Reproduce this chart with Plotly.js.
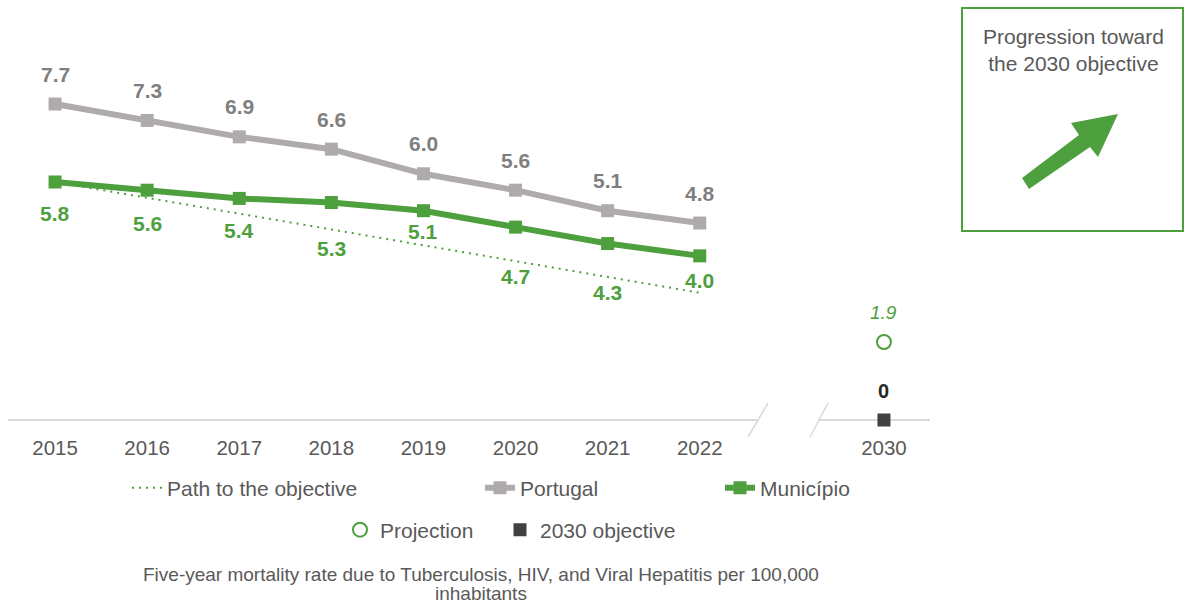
<!DOCTYPE html>
<html>
<head>
<meta charset="utf-8">
<script src="https://cdn.plot.ly/plotly-3.0.1.min.js"></script>
<style>html,body{margin:0;padding:0;background:#fff;}#chart{width:1187px;height:605px;}</style>
</head>
<body>
<div id="chart"></div>
<script>
// ---- data ----
const years = ['2015','2016','2017','2018','2019','2020','2021','2022'];
const yearPos = [0,1,2,3,4,5,6,7];
const portugal = [7.7, 7.3, 6.9, 6.6, 6.0, 5.6, 5.1, 4.8];
const municipio = [5.8, 5.6, 5.4, 5.3, 5.1, 4.7, 4.3, 4.0];
const pathYears = [0, 7];
const pathValues = [5.8, 3.1];
const targetYear = '2030';
const targetPos = 9;
const projection = [1.9];
const objective = [0];

// ---- styles / label placement ----
const FONT = 'Liberation Sans, Arial, sans-serif';
const GREEN = '#4e9f3d';
const GREY_LINE = '#afabab';
const GREY_LABEL = '#7f7f7f';
const TEXT = '#595959';
const municipioLabelShift = [-32, -33, -32, -46, -21, -49, -49, -25];

const W = 1187, H = 605, ML = 8, MR = 257, MT = 40, MB = 185;
const PW = W - ML - MR, PH = H - MT - MB;
const px = x => (x - ML) / PW;
const py = y => (H - MB - y) / PH;

const traces = [
  {x: pathYears, y: pathValues, mode: 'lines', name: 'Path to the objective',
   line: {color: GREEN, width: 2, dash: '2px,5px'}, legend: 'legend', hoverinfo: 'skip'},
  {x: yearPos, y: portugal, mode: 'lines+markers', name: 'Portugal',
   line: {color: GREY_LINE, width: 6}, marker: {symbol: 'square', size: 13, color: GREY_LINE}, legend: 'legend2'},
  {x: yearPos, y: municipio, mode: 'lines+markers', name: 'Município',
   line: {color: GREEN, width: 6}, marker: {symbol: 'square', size: 13, color: GREEN}, legend: 'legend3'},
  {x: [targetPos], y: projection, mode: 'markers', name: 'Projection',
   marker: {symbol: 'circle-open', size: 14, color: GREEN, line: {width: 2, color: GREEN}}, legend: 'legend4', cliponaxis: false},
  {x: [targetPos], y: objective, mode: 'markers', name: '2030 objective',
   marker: {symbol: 'square', size: 13, color: '#404040'}, legend: 'legend5', cliponaxis: false}
];

const annotations = [];
portugal.forEach((v, i) => annotations.push({x: yearPos[i], y: v, text: v.toFixed(1), showarrow: false,
  yshift: 30, font: {family: FONT, size: 21, color: GREY_LABEL, weight: 'bold'}}));
municipio.forEach((v, i) => annotations.push({x: yearPos[i], y: v, text: v.toFixed(1), showarrow: false,
  yshift: municipioLabelShift[i], font: {family: FONT, size: 21, color: GREEN, weight: 'bold'}}));
annotations.push({x: targetPos, y: projection[0], text: projection[0].toFixed(1), showarrow: false,
  yshift: 30, font: {family: FONT, size: 19, color: GREEN, style: 'italic'}});
annotations.push({x: targetPos, y: objective[0], text: String(objective[0]), showarrow: false,
  yshift: 29, font: {family: FONT, size: 20, color: '#262626', weight: 'bold'}});
annotations.push({xref: 'paper', yref: 'paper', x: px(481), y: py(574), xanchor: 'center', yanchor: 'middle',
  text: 'Five-year mortality rate due to Tuberculosis, HIV, and Viral Hepatitis per 100,000',
  showarrow: false, borderpad: 0, font: {family: FONT, size: 19, color: TEXT}});
annotations.push({xref: 'paper', yref: 'paper', x: px(481), y: py(593), xanchor: 'center', yanchor: 'middle',
  text: 'inhabitants', showarrow: false, borderpad: 0, font: {family: FONT, size: 19, color: TEXT}});
annotations.push({xref: 'paper', yref: 'paper', x: px(1073), y: py(50), xanchor: 'center', yanchor: 'middle',
  text: 'Progression toward<br>the 2030 objective', showarrow: false, font: {family: FONT, size: 21, color: TEXT}});

function P(x, y) { return px(x) + ',' + py(y); }
const arrowPath = 'M' + P(1022,178) + ' L' + P(1079,135) + ' L' + P(1071,123) + ' L' + P(1118,114) +
  ' L' + P(1098,157) + ' L' + P(1090,147) + ' L' + P(1029,189) + ' Z';

const AX = '#d9d9d9';
const shapes = [
  {type: 'line', layer: 'below', xref: 'paper', yref: 'paper', x0: px(8), x1: px(757), y0: py(420), y1: py(420), line: {color: AX, width: 2}},
  {type: 'line', layer: 'below', xref: 'paper', yref: 'paper', x0: px(818), x1: px(930), y0: py(420), y1: py(420), line: {color: AX, width: 2}},
  {type: 'line', layer: 'below', xref: 'paper', yref: 'paper', x0: px(768), x1: px(748), y0: py(403), y1: py(437), line: {color: AX, width: 1.5}},
  {type: 'line', layer: 'below', xref: 'paper', yref: 'paper', x0: px(828), x1: px(810), y0: py(403), y1: py(437), line: {color: AX, width: 1.5}},
  {type: 'rect', xref: 'paper', yref: 'paper', x0: px(962), x1: px(1183), y0: py(8), y1: py(231), line: {color: GREEN, width: 2}, fillcolor: 'rgba(0,0,0,0)'},
  {type: 'path', xref: 'paper', yref: 'paper', path: arrowPath, fillcolor: GREEN, line: {width: 0}}
];

function leg(xpx, ypx) {
  return {orientation: 'h', x: px(xpx), y: py(ypx), xanchor: 'left', yanchor: 'middle', bgcolor: 'rgba(0,0,0,0)',
    font: {family: FONT, size: 21, color: TEXT}, itemclick: false, itemdoubleclick: false};
}

const layout = {
  width: W, height: H,
  margin: {l: ML, r: MR, t: MT, b: MB},
  paper_bgcolor: '#fff', plot_bgcolor: '#fff',
  font: {family: FONT, color: TEXT},
  showlegend: true,
  xaxis: {range: [-0.511, 9.5], tickvals: yearPos.concat([targetPos]), ticktext: years.concat([targetYear]),
    showgrid: false, zeroline: false, showline: false, ticks: '', ticklabelstandoff: 13,
    tickfont: {family: FONT, size: 20.5, color: TEXT}, fixedrange: true},
  yaxis: {range: [0, 9.26], visible: false, fixedrange: true},
  legend: leg(127, 488),
  legend2: leg(480, 488),
  legend3: leg(720, 488),
  legend4: leg(340, 530),
  legend5: leg(500, 530),
  annotations: annotations,
  shapes: shapes
};

Plotly.newPlot('chart', traces, layout, {displayModeBar: false, staticPlot: true});
</script>
</body>
</html>
